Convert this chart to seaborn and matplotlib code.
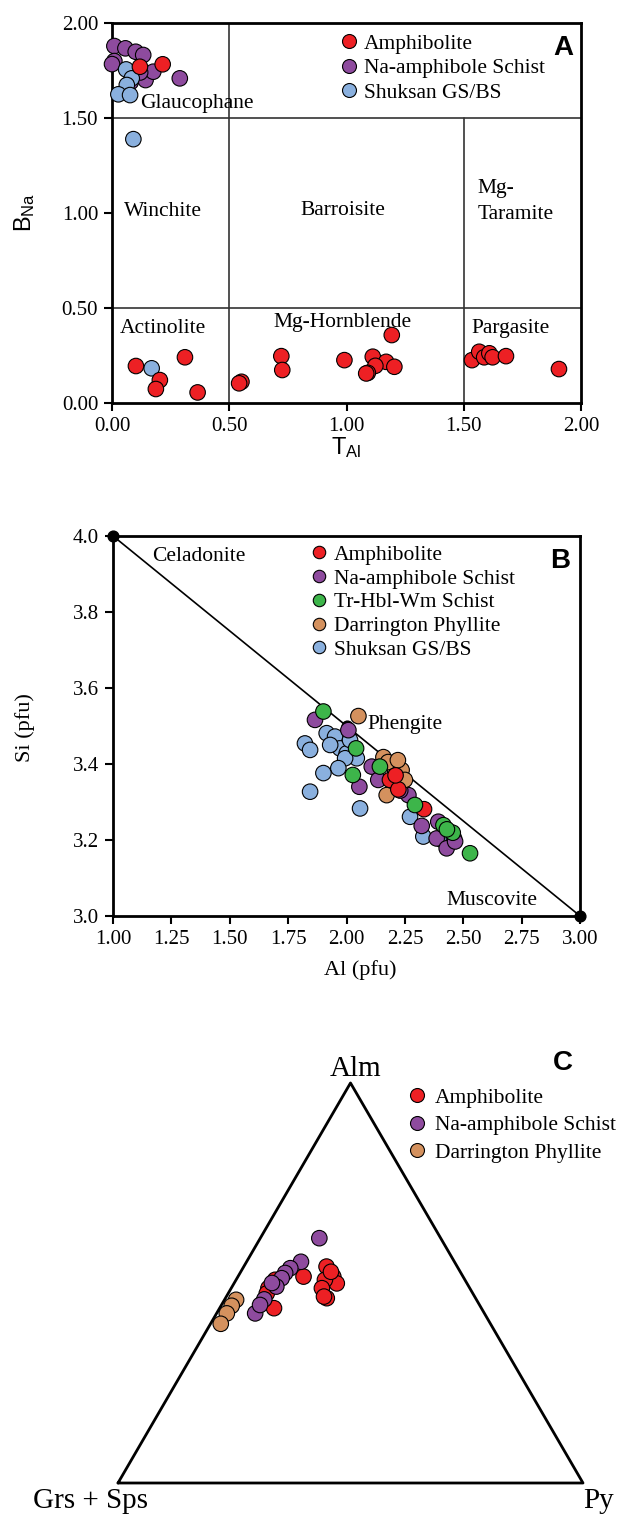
import numpy as np
import pandas as pd
import matplotlib
matplotlib.use("Agg")
import matplotlib.pyplot as plt
import seaborn as sns

# ---- panel A: amphibole classification (T_Al vs B_Na) ----
a_amph_tal = [0.119, 0.216, 0.102, 0.311, 0.204, 0.187, 0.365, 0.552, 0.542, 0.722, 0.726,
              0.991, 1.193, 1.112, 1.169, 1.204, 1.123, 1.091, 1.084, 1.535, 1.566, 1.587,
              1.609, 1.623, 1.680, 1.906]
a_amph_bna = [1.770, 1.783, 0.195, 0.241, 0.121, 0.074, 0.056, 0.112, 0.104, 0.247, 0.174,
              0.226, 0.358, 0.244, 0.217, 0.191, 0.196, 0.159, 0.156, 0.226, 0.270, 0.241,
              0.262, 0.241, 0.247, 0.179]
a_naschist_tal = [0.010, 0.057, 0.101, 0.133, 0.010, 0.000, 0.143, 0.176, 0.289, 0.120, 0.080]
a_naschist_bna = [1.879, 1.867, 1.849, 1.832, 1.800, 1.784, 1.700, 1.744, 1.709, 1.740, 1.690]
a_shuksan_tal = [0.060, 0.084, 0.063, 0.027, 0.077, 0.091, 0.169]
a_shuksan_bna = [1.756, 1.709, 1.674, 1.625, 1.621, 1.389, 0.183]

# ---- panel B: white mica Al vs Si ----
b_amph_al = [2.186, 2.222, 2.332, 2.210]
b_amph_si = [3.358, 3.333, 3.281, 3.370]
b_naschist_al = [1.865, 2.008, 2.108, 2.136, 2.055, 2.265, 2.322, 2.393, 2.386, 2.429, 2.465, 2.230]
b_naschist_si = [3.516, 3.489, 3.393, 3.358, 3.340, 3.318, 3.237, 3.248, 3.204, 3.178, 3.196, 3.330]
b_trhbl_al = [1.901, 2.041, 2.143, 2.027, 2.293, 2.415, 2.455, 2.529, 2.430]
b_trhbl_si = [3.538, 3.441, 3.393, 3.371, 3.292, 3.239, 3.219, 3.165, 3.228]
b_darr_al = [2.051, 2.158, 2.208, 2.236, 2.194, 2.172, 2.178, 2.250, 2.220]
b_darr_si = [3.526, 3.418, 3.384, 3.384, 3.358, 3.318, 3.405, 3.358, 3.410]
b_shuksan_al = [1.822, 1.844, 1.915, 1.951, 1.972, 2.001, 2.044, 1.994, 1.965, 1.901, 1.844,
                2.058, 2.272, 2.329, 2.015, 1.930, 2.410, 2.460]
b_shuksan_si = [3.454, 3.437, 3.481, 3.472, 3.441, 3.428, 3.415, 3.415, 3.389, 3.376, 3.327,
                3.283, 3.261, 3.209, 3.463, 3.450, 3.200, 3.205]
b_endmember_al = [1.0, 2.0, 3.0]
b_endmember_si = [4.0, 3.5, 3.0]

# ---- panel C: garnet ternary (mol %) ----
c_amph_alm = [54.1, 51.6, 49.9, 50.8, 48.7, 46.2, 46.6, 51.6, 50.8, 48.7, 47.4, 43.7, 52.8]
c_amph_py = [17.8, 20.5, 22.1, 19.1, 19.5, 21.8, 21.0, 14.1, 8.4, 8.0, 8.3, 11.7, 19.4]
c_naschist_alm = [61.2, 55.3, 53.7, 52.5, 51.2, 49.1, 45.9, 42.4, 50.0, 44.5]
c_naschist_py = [12.7, 11.7, 10.2, 9.7, 9.6, 9.5, 8.5, 8.3, 8.1, 8.3]
c_darr_alm = [45.8, 44.3, 42.4, 39.8]
c_darr_py = [2.5, 2.3, 2.2, 2.2]

colors = {
    "Amphibolite": "#ED2024",
    "Na-amphibole Schist": "#8E4B9E",
    "Tr-Hbl-Wm Schist": "#3DB54A",
    "Darrington Phyllite": "#D4915E",
    "Shuksan GS/BS": "#8AB0DE",
}


def frame(groups, xname, yname):
    parts = []
    for name, xs, ys in groups:
        parts.append(pd.DataFrame({xname: xs, yname: ys, "group": name}))
    return pd.concat(parts, ignore_index=True)


sns.set_style("ticks")
plt.rcParams['font.family'] = ['Liberation Serif', 'DejaVu Serif']
plt.rcParams['mathtext.fontset'] = 'custom'
plt.rcParams['mathtext.rm'] = 'Liberation Sans'
plt.rcParams['mathtext.it'] = 'Liberation Sans'
plt.rcParams['axes.linewidth'] = 2
plt.rcParams['axes.edgecolor'] = 'black'
plt.rcParams['axes.labelcolor'] = 'black'
plt.rcParams['text.color'] = 'black'
plt.rcParams['xtick.color'] = 'black'
plt.rcParams['ytick.color'] = 'black'
plt.rcParams['xtick.major.width'] = 1.5
plt.rcParams['ytick.major.width'] = 1.5
plt.rcParams['xtick.major.size'] = 6
plt.rcParams['ytick.major.size'] = 6
plt.rcParams['xtick.labelsize'] = 15
plt.rcParams['ytick.labelsize'] = 15

fig = plt.figure(figsize=(6.22, 15.17), dpi=100)
pt_size = 125
tfs = 15.5

# ================= A =================
axA = fig.add_axes([0.1801, 0.7343, 0.7540, 0.2505])
dfA = frame([("Amphibolite", a_amph_tal, a_amph_bna),
             ("Na-amphibole Schist", a_naschist_tal, a_naschist_bna),
             ("Shuksan GS/BS", a_shuksan_tal, a_shuksan_bna)], "tal", "bna")
dfA = pd.concat([dfA[dfA.group == "Na-amphibole Schist"], dfA[dfA.group == "Shuksan GS/BS"],
                 dfA[dfA.group == "Amphibolite"]])
hue_A = ["Amphibolite", "Na-amphibole Schist", "Shuksan GS/BS"]
axA.plot([0.5, 0.5], [0, 2], color="#333333", lw=1.2, zorder=1)
axA.plot([1.5, 1.5], [0, 1.5], color="#333333", lw=1.2, zorder=1)
for y0 in [0.5, 1.5]:
    axA.plot([0, 2], [y0, y0], color="#333333", lw=1.2, zorder=1)
sns.scatterplot(data=dfA, x="tal", y="bna", hue="group", hue_order=hue_A,
                palette=colors, s=pt_size, edgecolor="black", linewidth=0.8,
                alpha=1, ax=axA, zorder=3, clip_on=False)
axA.set_xlim(0, 2)
axA.set_ylim(0, 2)
axA.set_xticks([0, 0.5, 1.0, 1.5, 2.0])
axA.set_yticks([0, 0.5, 1.0, 1.5, 2.0])
axA.xaxis.set_major_formatter(matplotlib.ticker.FormatStrFormatter('%.2f'))
axA.yaxis.set_major_formatter(matplotlib.ticker.FormatStrFormatter('%.2f'))
axA.tick_params(direction='out', pad=4)
axA.set_xlabel(r'$\mathrm{T_{Al}}$', fontsize=17)
axA.set_ylabel(r'$\mathrm{B_{Na}}$', fontsize=17)
axA.xaxis.set_label_coords(0.5, -0.083)
axA.yaxis.set_label_coords(-0.16, 0.503)
for txt, x, y, ha in [("Glaucophane", 0.119, 1.579, "left"), ("Winchite", 0.051, 1.01, "left"),
                      ("Barroisite", 0.983, 1.015, "center"), ("Mg-\nTaramite", 1.557, 1.06, "left"),
                      ("Actinolite", 0.034, 0.395, "left"), ("Mg-Hornblende", 0.983, 0.426, "center"),
                      ("Pargasite", 1.532, 0.395, "left")]:
    axA.text(x, y, txt, ha=ha, va="center", fontsize=tfs, zorder=2, linespacing=1.5)
axA.text(0.962, 0.935, "A", transform=axA.transAxes, ha="center", va="center",
         fontsize=20, fontweight="bold", family=["Liberation Sans", "DejaVu Sans"])
sns.move_legend(axA, "upper left", bbox_to_anchor=(0.455, 1.0), frameon=False, title=None,
                fontsize=tfs, handletextpad=0.1, labelspacing=0.2, borderpad=0,
                handlelength=1.2, markerscale=0.9)

# ================= B =================
axB = fig.add_axes([0.1817, 0.3962, 0.7508, 0.2505])
dfB = frame([("Amphibolite", b_amph_al, b_amph_si),
             ("Na-amphibole Schist", b_naschist_al, b_naschist_si),
             ("Tr-Hbl-Wm Schist", b_trhbl_al, b_trhbl_si),
             ("Darrington Phyllite", b_darr_al, b_darr_si),
             ("Shuksan GS/BS", b_shuksan_al, b_shuksan_si)], "al", "si")
hue_B = list(colors.keys())
axB.plot(b_endmember_al[::2], b_endmember_si[::2], color="black", lw=1.2, zorder=1)
axB.scatter(b_endmember_al, b_endmember_si, s=60, color="black", zorder=2, clip_on=False)
order_B = ["Shuksan GS/BS", "Na-amphibole Schist", "Darrington Phyllite", "Amphibolite", "Tr-Hbl-Wm Schist"]
dfB = pd.concat([dfB[dfB.group == g] for g in order_B])
sns.scatterplot(data=dfB, x="al", y="si", hue="group", hue_order=hue_B,
                palette=colors, s=pt_size, edgecolor="black", linewidth=0.8,
                alpha=1, ax=axB, zorder=3)
axB.set_xlim(1, 3)
axB.set_ylim(3, 4)
axB.set_xticks(np.arange(1, 3.01, 0.25))
axB.set_yticks(np.arange(3, 4.01, 0.2))
axB.xaxis.set_major_formatter(matplotlib.ticker.FormatStrFormatter('%.2f'))
axB.yaxis.set_major_formatter(matplotlib.ticker.FormatStrFormatter('%.1f'))
axB.tick_params(direction='out', pad=4)
axB.set_xlabel("Al (pfu)", fontsize=16)
axB.set_ylabel("Si (pfu)", fontsize=16)
axB.xaxis.set_label_coords(0.529, -0.115)
axB.yaxis.set_label_coords(-0.168, 0.497)
for txt, x, y in [("Celadonite", 1.167, 3.945), ("Phengite", 2.088, 3.505), ("Muscovite", 2.43, 3.042)]:
    axB.text(x, y, txt, ha="left", va="center", fontsize=tfs, zorder=4)
axB.text(0.958, 0.935, "B", transform=axB.transAxes, ha="center", va="center",
         fontsize=20, fontweight="bold", family=["Liberation Sans", "DejaVu Sans"])
sns.move_legend(axB, "upper left", bbox_to_anchor=(0.39, 1.005), frameon=False, title=None,
                fontsize=tfs, handletextpad=0.1, labelspacing=0.17, borderpad=0,
                handlelength=1.2, markerscale=0.8)

# ================= C =================
axC = fig.add_axes([0.1897, 0.02241, 0.7476, 0.2637])
c_groups = [("Amphibolite", c_amph_alm, c_amph_py),
            ("Na-amphibole Schist", c_naschist_alm, c_naschist_py),
            ("Darrington Phyllite", c_darr_alm, c_darr_py)]
dfC = frame(c_groups, "alm", "py")
dfC["grs_sps"] = 100 - dfC["alm"] - dfC["py"]
dfC["tx"] = (dfC["py"] + dfC["alm"] / 2) / 100
dfC["ty"] = dfC["alm"] / 100
hue_C = ["Amphibolite", "Na-amphibole Schist", "Darrington Phyllite"]
axC.plot([0, 1, 0.5, 0], [0, 0, 1, 0], color="black", lw=2, zorder=1, clip_on=False)
order_C = ["Darrington Phyllite", "Amphibolite", "Na-amphibole Schist"]
dfC = pd.concat([dfC[dfC.group == g] for g in order_C])
sns.scatterplot(data=dfC, x="tx", y="ty", hue="group", hue_order=hue_C,
                palette=colors, s=pt_size, edgecolor="black", linewidth=0.8,
                alpha=1, ax=axC, zorder=3)
axC.set_xlim(0, 1)
axC.set_ylim(0, 1)
axC.set_axis_off()
axC.text(0.51, 1.035, "Alm", ha="center", va="center", fontsize=21)
axC.text(-0.06, -0.045, "Grs + Sps", ha="center", va="center", fontsize=21)
axC.text(1.0, -0.045, "Py", ha="left", va="center", fontsize=21)
axC.text(0.957, 1.05, "C", ha="center", va="center",
         fontsize=20, fontweight="bold", family=["Liberation Sans", "DejaVu Sans"])
sns.move_legend(axC, "upper left", bbox_to_anchor=(0.593, 1.015), frameon=False, title=None,
                fontsize=tfs, handletextpad=0.2, labelspacing=0.35, borderpad=0,
                handlelength=1.2, markerscale=0.9)

fig.savefig("out.png", dpi=100)
